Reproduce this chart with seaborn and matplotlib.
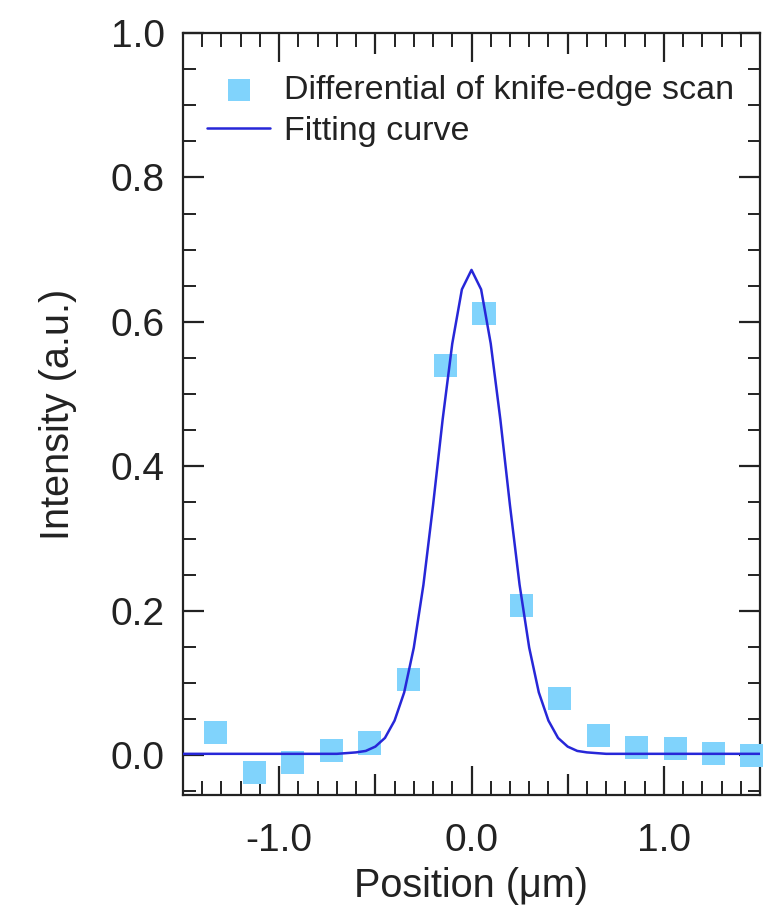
import matplotlib
matplotlib.use("Agg")
import matplotlib.pyplot as plt
from matplotlib.ticker import MultipleLocator, FixedLocator, NullFormatter
import numpy as np
import pandas as pd
import seaborn as sns

# Measured points: derivative of the knife-edge scan
scan_x = [-1.33, -1.13, -0.93, -0.73, -0.53, -0.33, -0.135, 0.065,
          0.26, 0.46, 0.66, 0.86, 1.06, 1.26, 1.455]
scan_y = [0.032, -0.024, -0.010, 0.007, 0.017, 0.105, 0.540, 0.611,
          0.208, 0.079, 0.028, 0.011, 0.010, 0.003, 0.000]

# Fitted profile, sampled along the position axis
fit_x = [-1.5, -0.70, -0.65, -0.60, -0.55, -0.50, -0.45, -0.40, -0.35,
         -0.30, -0.25, -0.20, -0.15, -0.10, -0.05, 0.00, 0.05, 0.10,
         0.15, 0.20, 0.25, 0.30, 0.35, 0.40, 0.45, 0.50, 0.55, 0.60,
         0.65, 0.70, 1.5]
fit_y = [0.002, 0.002, 0.003, 0.004, 0.006, 0.012, 0.024, 0.048, 0.087,
         0.149, 0.236, 0.346, 0.465, 0.570, 0.645, 0.672, 0.645, 0.570,
         0.465, 0.346, 0.236, 0.149, 0.087, 0.048, 0.024, 0.012, 0.006,
         0.004, 0.003, 0.002, 0.002]

x_major = [-1.0, 0.0, 1.0]
x_mid = [-0.5, 0.5]

scan = pd.DataFrame({"x": scan_x, "y": scan_y})
fit = pd.DataFrame({"x": fit_x, "y": fit_y})

sns.set_style("ticks")
plt.rcParams["font.family"] = ["Liberation Sans", "DejaVu Sans"]

W, H = 776, 905
fig = plt.figure(figsize=(W / 100, H / 100), dpi=100)
ax = fig.add_axes([183 / W, 1 - 795 / H, 577 / W, 762 / H])

marker_color = "#80D3FC"
line_color = "#2727D8"
text_color = "#222222"

sns.scatterplot(data=scan, x="x", y="y", ax=ax, marker="s", s=275,
                color=marker_color, edgecolor="none", linewidth=0,
                clip_on=False, zorder=3,
                label="Differential of knife-edge scan")
sns.lineplot(data=fit, x="x", y="y", ax=ax, sort=False, estimator=None,
             color=line_color, linewidth=1.8, zorder=4,
             label="Fitting curve")

ax.set_xlim(-1.5, 1.5)
ax.set_ylim(-0.055, 1.0)

for side in ["left", "right", "top", "bottom"]:
    ax.spines[side].set_visible(True)
    ax.spines[side].set_linewidth(1.6)
    ax.spines[side].set_color(text_color)

ax.xaxis.set_major_locator(FixedLocator(x_major))
ax.xaxis.set_minor_locator(MultipleLocator(0.1))
ax.yaxis.set_major_locator(MultipleLocator(0.2))
ax.yaxis.set_minor_locator(MultipleLocator(0.05))
ax.set_xticklabels([f"{v:.1f}" for v in x_major])
ax.yaxis.set_major_formatter(matplotlib.ticker.FormatStrFormatter("%.1f"))

ax.tick_params(axis="x", which="major", direction="in", length=21, width=1.6,
               top=True, bottom=True, labelsize=28, pad=20,
               color=text_color, labelcolor=text_color)
ax.tick_params(axis="x", which="minor", direction="in", length=10, width=1.4,
               top=True, bottom=True, color=text_color)
ax.tick_params(axis="y", which="major", direction="in", length=15, width=1.6,
               left=True, right=True, labelsize=28, pad=13,
               color=text_color, labelcolor=text_color)
ax.tick_params(axis="y", which="minor", direction="in", length=9, width=1.4,
               left=True, right=True, color=text_color)

# half-unit ticks on the position axis, a little longer than the minor ones
for loc in ("bottom", "top"):
    sec = ax.secondary_xaxis(loc)
    sec.xaxis.set_major_locator(FixedLocator(x_mid))
    sec.xaxis.set_major_formatter(NullFormatter())
    sec.tick_params(direction="in", length=15, width=1.6, color=text_color)
    sec.spines[loc].set_visible(False)

ax.set_xlabel("Position (μm)", fontsize=28.5, color=text_color, labelpad=6)
ax.set_ylabel("Intensity (a.u.)", fontsize=28.5, color=text_color, labelpad=24)

leg = ax.legend(loc="upper left", bbox_to_anchor=(-0.005, 0.981), frameon=False,
                fontsize=24.5, handlelength=1.85, handletextpad=0.4,
                labelspacing=0.3, borderaxespad=0.4, markerscale=0.95)
for t in leg.get_texts():
    t.set_color(text_color)

fig.savefig("out.png", dpi=100)
